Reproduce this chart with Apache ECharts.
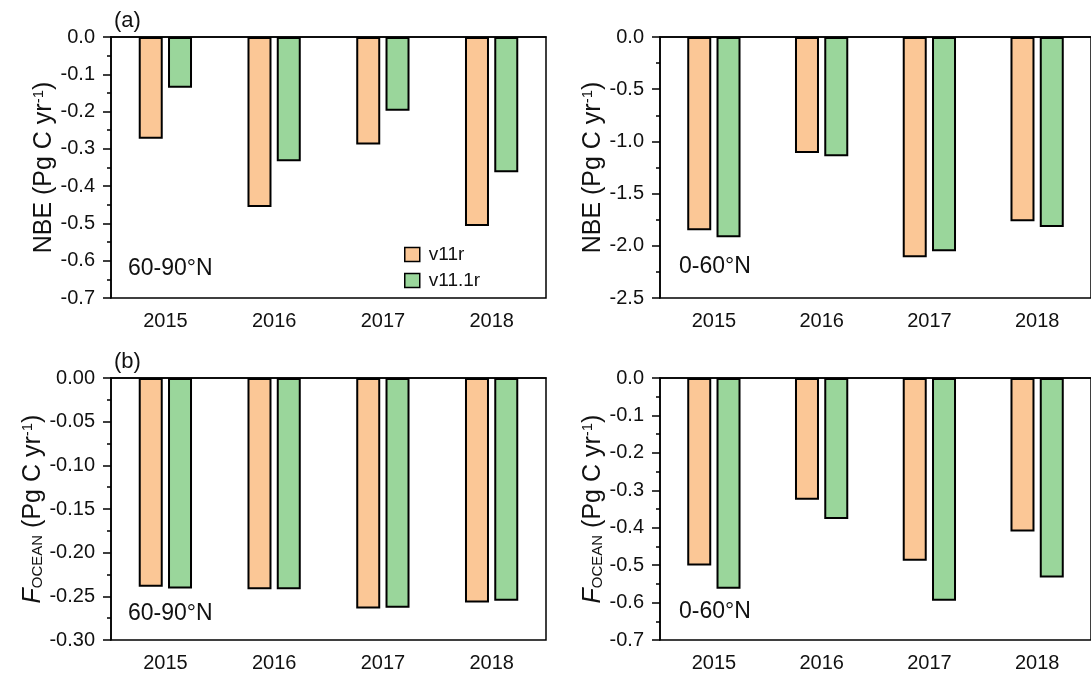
<!DOCTYPE html>
<html>
<head>
<meta charset="utf-8">
<script src="https://cdn.jsdelivr.net/npm/echarts@6/dist/echarts.min.js"></script>
<style>
html,body{margin:0;padding:0;background:#fff;}
#chart{width:1091px;height:677px;}
</style>
</head>
<body>
<div id="chart"></div>
<script>
// ---- data ----
const categories = ['2015', '2016', '2017', '2018'];
const seriesNames = ['v11r', 'v11.1r'];

const nbeHigh_v11r  = [-0.273, -0.456, -0.288, -0.507];
const nbeHigh_v111r = [-0.136, -0.333, -0.198, -0.363];

const nbeLow_v11r  = [-1.852, -1.111, -2.110, -1.766];
const nbeLow_v111r = [-1.919, -1.143, -2.053, -1.820];

const oceanHigh_v11r  = [-0.239, -0.242, -0.264, -0.257];
const oceanHigh_v111r = [-0.241, -0.242, -0.263, -0.255];

const oceanLow_v11r  = [-0.501, -0.325, -0.488, -0.410];
const oceanLow_v111r = [-0.563, -0.377, -0.595, -0.533];

const yMins = [-0.7, -2.5, -0.30, -0.7];
const yIntervals = [0.1, 0.5, 0.05, 0.1];
const yDecimals = [1, 1, 2, 1];
const regionLabels = ['60-90°N', '0-60°N', '60-90°N', '0-60°N'];
const panelLabels = ['(a)', '(b)'];

// ---- layout/style ----
const FONT = '"Liberation Sans", Arial, sans-serif';
const colors = ['#FBC796', '#9AD69B'];
const grids = [
  {left: 111, top: 37, width: 435, height: 261},
  {left: 660, top: 37, width: 437, height: 261},
  {left: 111, top: 378, width: 435, height: 262},
  {left: 660, top: 378, width: 437, height: 262}
];
const seriesData = [
  [nbeHigh_v11r, nbeHigh_v111r],
  [nbeLow_v11r, nbeLow_v111r],
  [oceanHigh_v11r, oceanHigh_v111r],
  [oceanLow_v11r, oceanLow_v111r]
];

const nbeName = '{a|NBE (Pg C yr}{sup|-1}{a|)}';
const oceanName = '{it|F}{sub|OCEAN}{a| (Pg C yr}{sup|-1}{a|)}';
const nameRich = {
  a: {fontSize: 25, fontFamily: FONT, color: '#111'},
  it: {fontSize: 25, fontFamily: FONT, fontStyle: 'italic', color: '#111'},
  sup: {fontSize: 15, fontFamily: FONT, color: '#111', verticalAlign: 'top'},
  sub: {fontSize: 15, fontFamily: FONT, color: '#111', verticalAlign: 'bottom'}
};

const option = {
  backgroundColor: '#fff',
  animation: false,
  grid: grids.map(g => Object.assign({show: true, borderColor: '#000', borderWidth: 1.5, backgroundColor: 'transparent', containLabel: false}, g)),
  legend: {
    data: seriesNames,
    left: 404, top: 245,
    orient: 'vertical',
    itemWidth: 15, itemHeight: 14, itemGap: 7,
    icon: 'rect',
    padding: 0,
    itemStyle: {borderColor: '#000', borderWidth: 1.5},
    textStyle: {fontSize: 19, fontFamily: FONT, color: '#111', padding: [0, 0, 0, 4]}
  },
  xAxis: grids.map((g, i) => ({
    type: 'category', gridIndex: i, data: categories,
    boundaryGap: true,
    axisLine: {lineStyle: {color: '#000', width: 1.5}},
    axisTick: {alignWithLabel: true, length: 6, lineStyle: {color: '#000', width: 1.5}},
    axisLabel: {fontSize: 20, fontFamily: FONT, color: '#111', margin: 13},
    splitLine: {show: false}
  })),
  yAxis: grids.map((g, i) => ({
    type: 'value', gridIndex: i,
    min: yMins[i], max: 0, interval: yIntervals[i],
    name: i < 2 ? nbeName : oceanName,
    nameLocation: 'middle', nameRotate: 90, nameGap: 46,
    nameTextStyle: {rich: nameRich},
    axisLine: {show: true, lineStyle: {color: '#000', width: 1.5}},
    axisTick: {show: true, length: 8, lineStyle: {color: '#000', width: 1.5}},
    minorTick: {show: true, splitNumber: 2, length: 4, lineStyle: {color: '#000', width: 1.5}},
    axisLabel: {fontSize: 20, fontFamily: FONT, color: '#111', margin: 16,
      formatter: v => (Math.abs(v) < 1e-9 ? 0 : v).toFixed(yDecimals[i])},
    splitLine: {show: false}, minorSplitLine: {show: false}
  })),
  series: [],
  graphic: []
};

seriesData.forEach((pair, gi) => {
  pair.forEach((vals, si) => {
    option.series.push({
      type: 'bar', name: seriesNames[si],
      xAxisIndex: gi, yAxisIndex: gi,
      data: vals,
      barWidth: 24, barGap: '22%',
      itemStyle: {color: colors[si], borderColor: '#000', borderWidth: 2}
    });
  });
});

const regionPos = [[128, 270], [679, 268], [128, 615], [679, 613]];
regionLabels.forEach((t, i) => {
  option.graphic.push({type: 'text', left: regionPos[i][0], top: regionPos[i][1] - 13,
    style: {text: t, fontSize: 23, fontFamily: FONT, fill: '#111'}});
});
const panelPos = [[114, 10], [114, 351]];
panelLabels.forEach((t, i) => {
  option.graphic.push({type: 'text', left: panelPos[i][0], top: panelPos[i][1],
    style: {text: t, fontSize: 22, fontFamily: FONT, fill: '#111'}});
});

const chart = echarts.init(document.getElementById('chart'), null, {renderer: 'canvas'});
chart.setOption(option);
</script>
</body>
</html>
